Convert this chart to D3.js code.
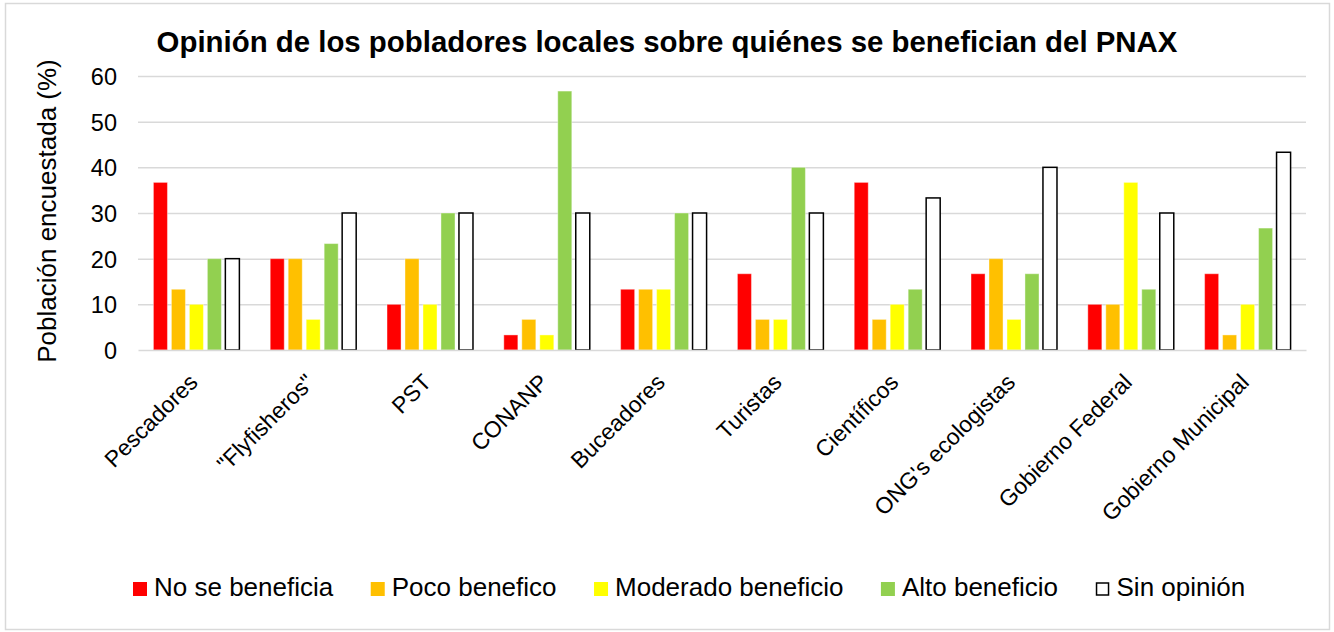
<html>
<head>
<meta charset="utf-8">
<script src="https://d3js.org/d3.v7.min.js"></script>
<style>
body { margin: 0; background: #fff; }
svg { display: block; }
text { font-family: "Liberation Sans", Arial, Helvetica, sans-serif; fill: #000; }
.grid line { stroke: #d9d9d9; stroke-width: 1.5; }
.grid path { display: none; }
.y-axis path, .y-axis line { display: none; }
.y-axis text { font-size: 23.5px; }
.x-axis path { stroke: #d9d9d9; stroke-width: 1.5; }
.x-axis line { display: none; }
.x-axis text { font-size: 22.8px; }
</style>
</head>
<body>
<svg width="1334" height="632"></svg>
<script>

var categories = ["Pescadores", "\"Flyfisheros\"", "PST", "CONANP", "Buceadores", "Turistas",
                  "Científicos", "ONG's ecologistas", "Gobierno Federal", "Gobierno Municipal"];
var seriesNames = ["No se beneficia", "Poco benefico", "Moderado beneficio", "Alto beneficio", "Sin opinión"];
var seriesColors = ["#ff0000", "#ffc000", "#ffff00", "#92d050", "#ffffff"];

var noBeneficia   = [36.7, 20, 10, 3.3, 13.3, 16.7, 36.7, 16.7, 10, 16.7];
var pocoBenefico  = [13.3, 20, 20, 6.7, 13.3, 6.7, 6.7, 20, 10, 3.3];
var moderado      = [10, 6.7, 10, 3.3, 13.3, 6.7, 10, 6.7, 36.7, 10];
var altoBeneficio = [20, 23.3, 30, 56.7, 30, 40, 13.3, 16.7, 13.3, 26.7];
var sinOpinion    = [20, 30, 30, 30, 30, 30, 33.3, 40, 30, 43.3];

var yTicks = [0, 10, 20, 30, 40, 50, 60];

var values = [noBeneficia, pocoBenefico, moderado, altoBeneficio, sinOpinion];

var svg = d3.select("svg");

// outer chart border
svg.append("rect")
    .attr("x", 5.5).attr("y", 3.5)
    .attr("width", 1324).attr("height", 626)
    .attr("fill", "#fff")
    .attr("stroke", "#d9d9d9")
    .attr("stroke-width", 1.5);

var margin = {top: 76, left: 138, right: 28, bottom: 282},
    plotW = 1334 - margin.left - margin.right,
    plotH = 632 - margin.top - margin.bottom;

var g = svg.append("g").attr("transform", "translate(" + margin.left + "," + margin.top + ")");

var x0 = d3.scaleBand()
    .domain(categories)
    .range([0, plotW])
    .paddingInner(0.264)
    .paddingOuter(0.132);

var x1 = d3.scaleBand()
    .domain(d3.range(seriesNames.length))
    .range([0, x0.bandwidth()])
    .paddingInner(0.22);

var y = d3.scaleLinear()
    .domain([0, 60])
    .range([plotH, 0]);

// gridlines
g.append("g")
    .attr("class", "grid")
    .call(d3.axisLeft(y).tickValues(yTicks.slice(1)).tickSize(-plotW).tickFormat(""));

// y axis labels
g.append("g")
    .attr("class", "y-axis")
    .call(d3.axisLeft(y).tickValues(yTicks).tickSize(0).tickPadding(21))
    .selectAll("text").attr("dy", "0.36em");

// bars
var groups = g.selectAll(".layer")
    .data(categories)
    .enter().append("g")
    .attr("class", "layer")
    .attr("transform", d => "translate(" + x0(d) + ",0)");

groups.selectAll("rect")
    .data((d, i) => values.map((s, k) => ({k: k, v: s[i]})))
    .enter().append("rect")
    .attr("x", d => x1(d.k))
    .attr("y", d => y(d.v))
    .attr("width", x1.bandwidth())
    .attr("height", d => plotH - y(d.v))
    .attr("fill", d => seriesColors[d.k])
    .attr("stroke", d => d.k === 4 ? "#000" : "#ffffff")
    .attr("stroke-opacity", d => d.k === 4 ? 1 : 0.4)
    .attr("stroke-width", d => d.k === 4 ? 1.5 : 1);

// x axis
var xAxis = g.append("g")
    .attr("class", "x-axis")
    .attr("transform", "translate(0," + plotH + ")")
    .call(d3.axisBottom(x0).tickSize(0).tickSizeOuter(0).tickPadding(0));

xAxis.selectAll("text")
    .attr("text-anchor", "end")
    .attr("dy", "0.35em")
    .attr("transform", "translate(-3,28) rotate(-45)");

// title
svg.append("text")
    .attr("x", 667)
    .attr("y", 52)
    .attr("text-anchor", "middle")
    .style("font-size", "29.4px")
    .style("font-weight", "bold")
    .text("Opinión de los pobladores locales sobre quiénes se benefician del PNAX");

// y axis title
svg.append("text")
    .attr("transform", "translate(56,211) rotate(-90)")
    .attr("text-anchor", "middle")
    .style("font-size", "26px")
    .text("Población encuestada (%)");

// legend
var legend = svg.append("g").attr("class", "legend");
var lx = 133;
seriesNames.forEach(function(name, k) {
    var item = legend.append("g").attr("transform", "translate(" + lx + ",582)");
    item.append("rect")
        .attr("x", k === 4 ? 1 : 0).attr("y", k === 4 ? 1 : 0)
        .attr("width", k === 4 ? 12 : 14).attr("height", k === 4 ? 12 : 14)
        .attr("fill", seriesColors[k])
        .attr("stroke", k === 4 ? "#000" : "none")
        .attr("stroke-width", 1.5);
    var t = item.append("text")
        .attr("x", 21)
        .attr("y", 14)
        .style("font-size", "26px")
        .text(name);
    lx += 21 + t.node().getComputedTextLength() + 37.5;
});

</script>
</body>
</html>
